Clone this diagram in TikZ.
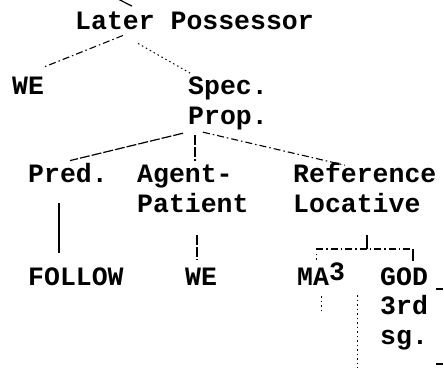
\documentclass[tikz,border=0pt]{standalone}
\usepackage{fontspec}
\setmonofont{Liberation Mono}
\usetikzlibrary{calc}
\begin{document}
\begin{tikzpicture}[x=1pt,y=-1pt,
        word/.style={anchor=base west,inner sep=0pt,align=left,
            font=\ttfamily\bfseries\fontsize{26.5}{29.5}\selectfont},
        link/.style={line width=1.2pt},
        dashlink/.style={line width=1.2pt,dash pattern=on 10pt off 2pt},
        dotlink/.style={line width=1pt,dash pattern=on 1.5pt off 3pt},
        mixlink/.style={line width=1.1pt,dash pattern=on 7pt off 3pt on 1.5pt off 3pt}]
    \useasboundingbox (0,0) rectangle (444,371);
    % the words (base = last line)
    \node[word] (lp) at (75,30) {Later Possessor};
    \node[word] (we1) at (12,95) {WE};
    \node[word] (sp) at (188,124.5) {Spec.\\Prop.};
    \node[word] (pr) at (28,183) {Pred.};
    \node[word] (ap) at (137,212.5) {Agent-\\Patient};
    \node[word] (rl) at (293,212.5) {Reference\\Locative};
    \node[word] (fo) at (28,285) {FOLLOW};
    \node[word] (we2) at (185,285) {WE};
    \node[word] (ma) at (297,285) {MA\raisebox{5pt}{3}};
    \node[word] (gd) at (380,344) {GOD\\3rd\\sg.};
    \coordinate (root) at (118,-1);
    \coordinate (br) at ($(rl.south west)+(74,36)$);
    \coordinate (brl) at ($(br -| ma.west)+(19,0)$);
    \coordinate (brr) at ($(br -| gd.west)+(33,0)$);
    % the branches
    \draw[link] (root) -- ($(lp.north west)+(57,-6)$);
    \draw[mixlink] ($(lp.south west)+(48,5)$) -- ($(we1.north east)+(-1,-10)$);
    \draw[dotlink] ($(lp.south west)+(63,13)$) -- ($(sp.north west)+(2,-4)$);
    \draw[dashlink] ($(sp.south west)+(-5,3)$) -- ($(pr.north west)+(42,-3)$);
    \draw[dashlink] ($(sp.south west)+(7,5)$) -- ($(ap.north west)+(58,-4)$);
    \draw[mixlink] ($(sp.south west)+(15,2)$) -- ($(rl.north west)+(52,2)$);
    \draw[link] ($(pr.south west)+(31,20)$) -- ($(fo.north west)+(31,-14)$);
    \draw[dashlink] ($(ap.south west)+(60,22)$) -- ($(we2.north west)+(12,-8)$);
    \draw[link] ($(rl.south west)+(74,22)$) -- (br);
    \draw[mixlink] (brl) -- (br) -- (brr);
    \draw[dotlink] ($(brl)+(0,5)$) -- ($(brl)+(0,13)$);
    \draw[link] (brr) -- ($(brr)+(0,12)$);
    \draw[dotlink] ($(ma.south west)+(24,11)$) -- ($(ma.south west)+(24,27)$);
    \draw[dotlink] ($(gd.north west)+(-23,28)$) -- ($(gd.north west)+(-23,101)$);
    \draw[link] ($(gd.north east)+(8,22)$) -- ($(gd.north east)+(15,22)$);
    \draw[link] ($(gd.north east)+(8,97)$) -- ($(gd.north east)+(15,97)$);
\end{tikzpicture}
\end{document}
